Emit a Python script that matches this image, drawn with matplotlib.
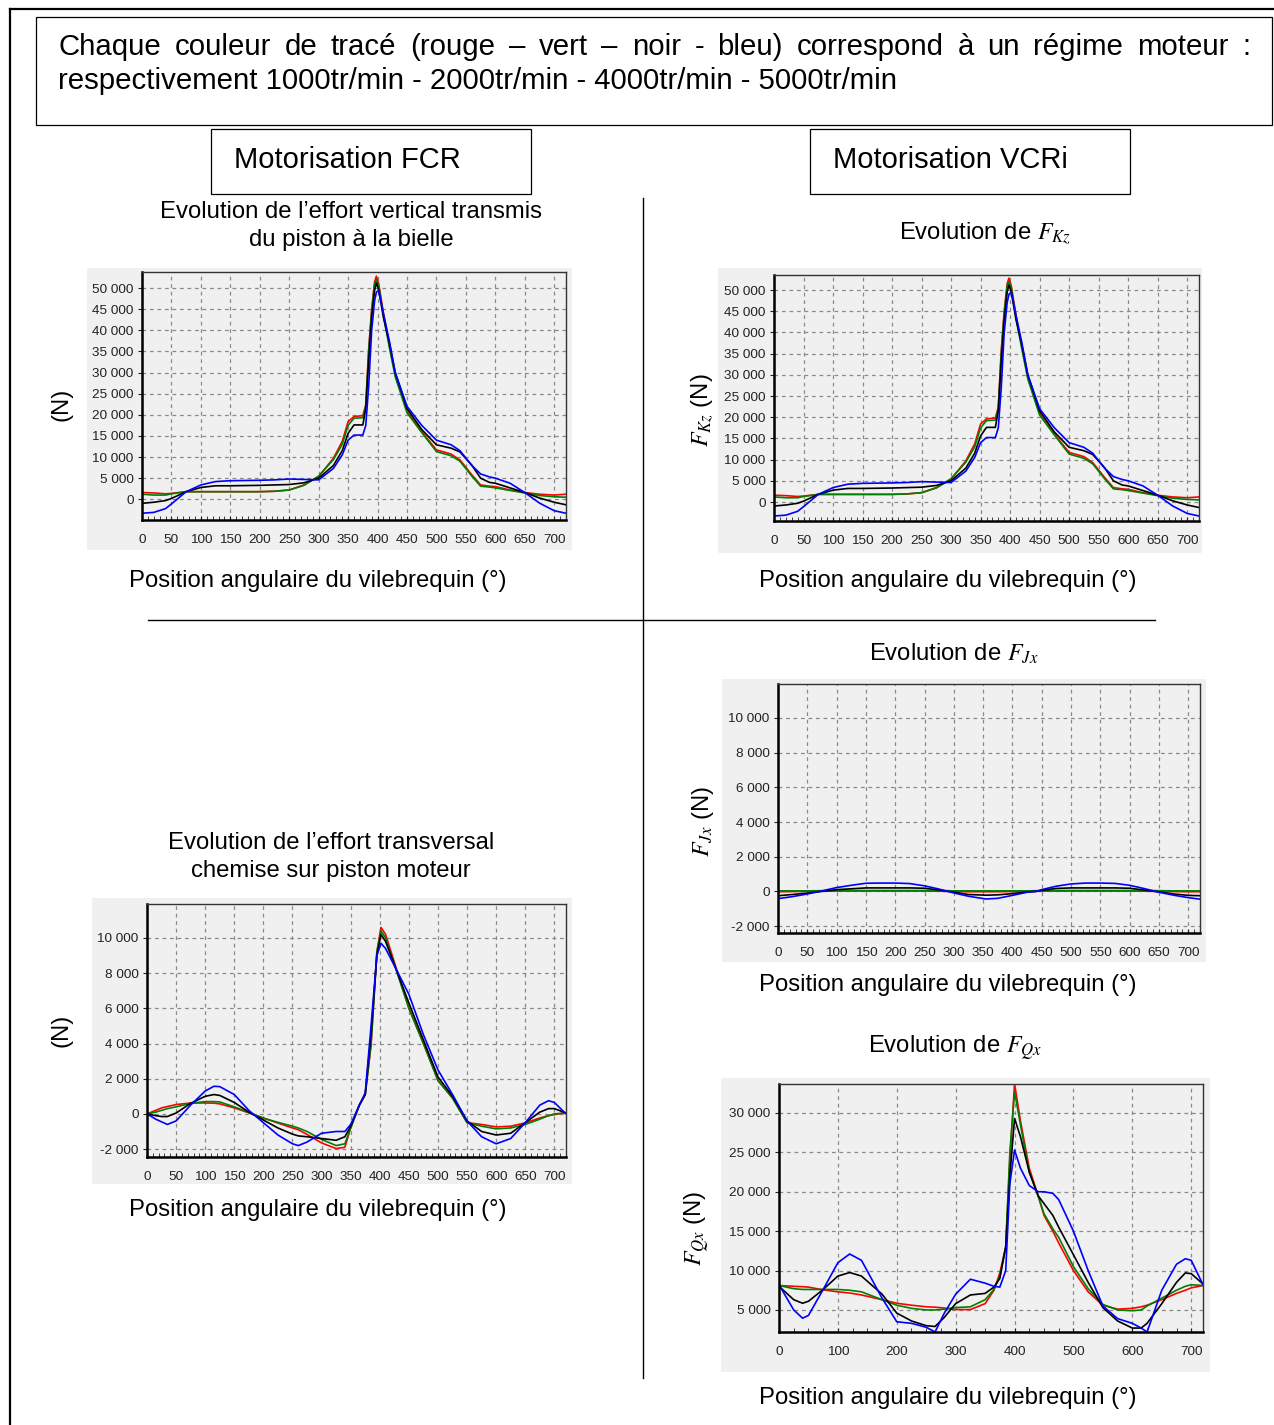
"""Efforts piston / bielle : comparaison des motorisations FCR et VCRi
pour quatre régimes moteur (rouge, vert, noir, bleu)."""
import matplotlib
matplotlib.use("Agg")
import matplotlib.pyplot as plt
from matplotlib.lines import Line2D
from matplotlib.patches import Rectangle
from matplotlib.ticker import FuncFormatter, MultipleLocator

W, H = 1274, 1425

plt.rcParams["font.family"] = ["Liberation Sans", "DejaVu Sans"]
plt.rcParams["mathtext.fontset"] = "stix"

RPM_COLORS = ["#ff0000", "#008000", "#000000", "#0000ff"]  # 1000, 2000, 4000, 5000 tr/min

# --- effort vertical piston -> bielle (FCR) / F_Kz (VCRi) -------------------
ang_vert = [0, 20, 40, 50, 75, 100, 125, 150, 200, 225,
            250, 275, 300, 325, 340, 350, 360, 375, 380, 385,
            390, 395, 398, 402, 410, 420, 430, 450, 475, 500,
            525, 540, 560, 575, 590, 600, 625, 650, 675, 700, 720]
vert_1000 = [1600, 1500, 1300, 1400, 1800, 1800, 1800, 1800, 1800, 1900,
             2200, 3400, 5400, 9700, 13700, 18400, 19600, 19800, 22400, 35800,
             45000, 51500, 52800, 51000, 44000, 36500, 29500, 20800, 16000, 11700,
             10700, 9300, 5800, 3400, 3100, 3000, 2200, 1600, 1200, 1000, 1200]
vert_2000 = [1200, 1000, 1000, 1300, 1800, 1800, 1800, 1800, 1800, 1900,
             2200, 3300, 5500, 9400, 13000, 17500, 19200, 19300, 22000, 35000,
             44500, 51000, 52000, 50500, 43500, 36000, 29000, 20500, 15800, 11300,
             10300, 9000, 5500, 3100, 2900, 2700, 2100, 1500, 900, 600, 500]
vert_4000 = [-950, -700, -300, 200, 1800, 2800, 3200, 3200, 3300, 3400,
             3500, 3900, 5000, 8000, 11500, 15600, 17600, 17600, 21500, 33000,
             43000, 49500, 51200, 49500, 43000, 37000, 30000, 21500, 16500, 12900,
             12100, 11200, 8100, 5000, 4000, 3800, 2700, 1600, 300, -700, -1300]
vert_5000 = [-3300, -3100, -2200, -1100, 1800, 3400, 4200, 4400, 4500, 4600,
             4800, 4700, 4600, 7300, 10500, 14000, 15200, 15200, 17500, 27000,
             40000, 47000, 49000, 49500, 44000, 37500, 30000, 22000, 17500, 14000,
             12900, 11500, 8000, 6000, 5300, 5000, 3800, 1600, -900, -2700, -3300]

# --- effort transversal chemise sur piston (FCR) ----------------------------
ang_trans = [0, 15, 25, 35, 50, 75, 100, 115, 125, 150,
             175, 200, 225, 250, 260, 275, 300, 325, 340, 350,
             365, 375, 385, 395, 402, 410, 450, 475, 500, 525,
             550, 575, 600, 625, 650, 675, 690, 700, 720]
trans_1000 = [0, 200, 340, 420, 530, 620, 620, 610, 570, 340,
              60, -230, -520, -800, -900, -1170, -1650, -1970, -1900, -800,
              530, 1100, 3900, 9200, 10600, 10200, 6000, 4000, 1900, 900,
              -500, -600, -740, -700, -510, -230, -100, -40, 60]
trans_2000 = [0, 100, 200, 300, 400, 600, 700, 700, 680, 400,
              80, -250, -480, -700, -800, -1000, -1450, -1800, -1700, -800,
              500, 1100, 4000, 9200, 10400, 10000, 6000, 4000, 1900, 900,
              -500, -700, -850, -800, -600, -300, -100, 0, 60]
trans_4000 = [0, -100, -150, -150, 50, 600, 1000, 1100, 1050, 650,
              100, -350, -800, -1150, -1250, -1300, -1400, -1500, -1300, -700,
              500, 1100, 4500, 9000, 10200, 9800, 6300, 4200, 2100, 1000,
              -400, -1000, -1200, -1100, -500, 100, 300, 300, 50]
trans_5000 = [0, -300, -450, -600, -400, 500, 1300, 1570, 1550, 1100,
              200, -500, -1200, -1700, -1800, -1600, -1100, -1000, -1000, -600,
              500, 1200, 5000, 9000, 9700, 9400, 6800, 4500, 2500, 1100,
              -400, -1300, -1700, -1400, -500, 500, 750, 650, 0]

# --- F_Jx (VCRi) --------------------------------------------------------------
ang_jx = [0, 25, 50, 75, 100, 125, 150, 175, 200, 225,
          250, 275, 290, 300, 325, 355, 375, 400, 425, 440,
          450, 475, 500, 525, 550, 575, 600, 625, 650, 675, 700, 720]
jx_1000 = [-20, -10, 0, 10, 20, 20, 20, 20, 20, 20,
           20, 10, 0, -10, -20, -20, -20, -10, 0, 0,
           10, 20, 20, 20, 20, 20, 20, 10, 0, -10, -20, -20]
jx_2000 = [30, 30, 30, 40, 50, 50, 50, 50, 50, 50,
           50, 50, 40, 30, 30, 30, 30, 30, 30, 40,
           40, 50, 50, 50, 50, 50, 50, 50, 40, 30, 30, 30]
jx_4000 = [-250, -180, -100, 0, 100, 150, 200, 200, 200, 200,
           180, 80, 0, -50, -180, -220, -200, -130, -30, 0,
           60, 170, 200, 200, 200, 200, 180, 80, -30, -150, -230, -250]
jx_5000 = [-420, -300, -150, 30, 220, 350, 470, 480, 480, 450,
           320, 130, 0, -90, -280, -440, -400, -230, -50, 0,
           100, 300, 430, 480, 480, 460, 350, 160, -50, -220, -360, -450]

# --- F_Qx (VCRi) --------------------------------------------------------------
ang_qx = [0, 25, 40, 50, 75, 100, 120, 140, 175, 200,
          225, 250, 265, 280, 300, 325, 350, 365, 375, 385,
          392, 400, 410, 425, 440, 450, 465, 475, 500, 525,
          550, 575, 600, 615, 625, 650, 675, 690, 700, 720]
qx_1000 = [8100, 8000, 7950, 7900, 7550, 7300, 7150, 6900, 6300, 5850,
           5600, 5400, 5350, 5250, 5050, 5050, 5800, 7500, 9700, 13000,
           24000, 33700, 29000, 23000, 19500, 17000, 15000, 13500, 10000, 7300,
           5600, 5100, 5200, 5400, 5600, 6300, 7100, 7500, 7800, 8100]
qx_2000 = [8100, 7700, 7600, 7600, 7600, 7600, 7500, 7300, 6300, 5600,
           5200, 5000, 5000, 5100, 5300, 5400, 6300, 7600, 9300, 13000,
           25000, 32700, 28500, 22500, 19500, 17200, 15300, 14200, 10500, 7700,
           5700, 5000, 4900, 5000, 5500, 6500, 7500, 8000, 8200, 8100]
qx_4000 = [8000, 6300, 5850, 6100, 7600, 9300, 9750, 9300, 7000, 4600,
           3600, 3000, 2900, 4000, 5800, 6900, 7100, 7900, 9000, 13000,
           22000, 29300, 27000, 22500, 19500, 18500, 17000, 15500, 12000, 8500,
           5300, 3600, 2700, 2700, 3300, 5800, 8500, 9700, 9600, 8300]
qx_5000 = [8200, 5000, 3950, 4300, 7600, 11000, 12100, 11300, 6500, 3500,
           3300, 2800, 2200, 4500, 7000, 8900, 8400, 8000, 7900, 10000,
           21000, 25300, 23000, 20800, 20000, 20000, 19800, 19000, 15000, 10000,
           5500, 3900, 3300, 2700, 2200, 7500, 10800, 11500, 11300, 8200]

XLABEL = "Position angulaire du vilebrequin (°)"
TXT = 17.2   # subtitles / axis labels


def fx(x):
    return x / W


def fy(y):
    return 1 - y / H


def ptext(fig, x, y, s, **kw):
    kw.setdefault("ha", "center")
    kw.setdefault("va", "center")
    return fig.text(fx(x), fy(y), s, **kw)


def pline(fig, xs, ys, lw=1.0):
    fig.add_artist(Line2D([fx(v) for v in xs], [fy(v) for v in ys],
                          transform=fig.transFigure, color="black", lw=lw))


def pbox(fig, x0, y0, x1, y1, lw=0.8, fc="none", ec="black", z=0):
    fig.add_artist(Rectangle((fx(x0), fy(y1)), fx(x1 - x0), (y1 - y0) / H,
                             transform=fig.transFigure, fc=fc, ec=ec, lw=lw,
                             zorder=z))


def thousands(v, _):
    return f"{int(round(v)):,}".replace(",", " ")


def chart(fig, panel, box, ylim, ystep, xstep, ang, series):
    pbox(fig, *panel, lw=0, fc="#f0f0f0", ec="none", z=-5)
    l, t, r, b = box
    ax = fig.add_axes([fx(l), fy(b), fx(r - l), (b - t) / H])
    ax.set_facecolor("#f0f0f0")
    for vals, col in zip(series, RPM_COLORS):
        ax.plot(ang, vals, color=col, lw=1.2)
    ax.set_xlim(0, 720)
    ax.set_ylim(*ylim)
    ax.xaxis.set_major_locator(MultipleLocator(xstep))
    ax.xaxis.set_minor_locator(MultipleLocator(25 if xstep == 100 else 10))
    ax.yaxis.set_major_locator(MultipleLocator(ystep))
    ax.yaxis.set_major_formatter(FuncFormatter(thousands))
    ax.grid(True, which="major", color="#8a8a8a", ls=(0, (3, 3)), lw=0.9)
    ax.tick_params(axis="x", which="both", direction="in", length=3, pad=10,
                   labelsize=9.7, colors="#222222")
    ax.tick_params(axis="y", which="major", direction="out", length=3, pad=3,
                   labelsize=9.7, colors="#222222")
    for side in ("left", "bottom"):
        ax.spines[side].set_linewidth(1.8)
        ax.spines[side].set_color("black")
    for side in ("top", "right"):
        ax.spines[side].set_linewidth(1.0)
        ax.spines[side].set_color("#333333")
    return ax


def justified(fig, words, x0, x1, y, size):
    arts = [fig.text(0, fy(y), w, fontsize=size, ha="left", va="center") for w in words]
    rend = fig.canvas.get_renderer()
    widths = [a.get_window_extent(rend).width for a in arts]
    gap = (x1 - x0 - sum(widths)) / (len(words) - 1)
    x = x0
    for a, w in zip(arts, widths):
        a.set_x(fx(x))
        x += w + gap


fig = plt.figure(figsize=(W / 100, H / 100), dpi=100)
fig.patch.set_facecolor("white")

# frame and separators
pline(fig, [10, 10], [9, H], lw=1.6)
pline(fig, [10, W], [9, 9], lw=1.6)
pline(fig, [643, 643], [198, 1378], lw=1.0)
pline(fig, [148, 1155], [620, 620], lw=1.0)

# header box
pbox(fig, 36, 17, 1272, 125, lw=0.9)
line1 = "Chaque couleur de tracé (rouge – vert – noir - bleu) correspond à un régime moteur :"
justified(fig, line1.split(" "), 58, 1250, 47, 21.2)
ptext(fig, 58, 81, "respectivement 1000tr/min - 2000tr/min - 4000tr/min - 5000tr/min",
      fontsize=21.2, ha="left")

pbox(fig, 211, 129, 531, 194, lw=0.9)
ptext(fig, 234, 160, "Motorisation FCR", fontsize=21, ha="left")
pbox(fig, 810, 129, 1130, 194, lw=0.9)
ptext(fig, 833, 160, "Motorisation VCRi", fontsize=21, ha="left")

# FCR : effort vertical
ptext(fig, 351, 226, "Evolution de l’effort vertical transmis\ndu piston à la bielle",
      fontsize=TXT, linespacing=1.32)
chart(fig, (87, 268, 572, 550), (142, 272, 566, 520), (-4900, 53800), 5000, 50,
      ang_vert, [vert_1000, vert_2000, vert_4000, vert_5000])
ptext(fig, 62, 404, "(N)", fontsize=TXT, rotation=90)
ptext(fig, 318, 581, XLABEL, fontsize=TXT)

# VCRi : F_Kz
ptext(fig, 985, 234, "Evolution de $F_{Kz}$", fontsize=TXT)
chart(fig, (718, 268, 1202, 553), (774, 275, 1199, 521), (-4480, 53540), 5000, 50,
      ang_vert, [vert_1000, vert_2000, vert_4000, vert_5000])
ptext(fig, 702, 410, "$F_{Kz}$ (N)", fontsize=TXT, rotation=90)
ptext(fig, 948, 581, XLABEL, fontsize=TXT)

# FCR : effort transversal
ptext(fig, 331, 857, "Evolution de l’effort transversal\nchemise sur piston moteur",
      fontsize=TXT, linespacing=1.32)
chart(fig, (92, 898, 572, 1184), (147, 904, 566, 1157), (-2450, 11930), 2000, 50,
      ang_trans, [trans_1000, trans_2000, trans_4000, trans_5000])
ptext(fig, 62, 1030, "(N)", fontsize=TXT, rotation=90)
ptext(fig, 318, 1210, XLABEL, fontsize=TXT)

# VCRi : F_Jx
ptext(fig, 954, 654, "Evolution de $F_{Jx}$", fontsize=TXT)
chart(fig, (722, 679, 1206, 962), (778, 684, 1200, 933), (-2400, 11960), 2000, 50,
      ang_jx, [jx_1000, jx_2000, jx_4000, jx_5000])
ptext(fig, 703, 822, "$F_{Jx}$ (N)", fontsize=TXT, rotation=90)
ptext(fig, 948, 985, XLABEL, fontsize=TXT)

# VCRi : F_Qx
ptext(fig, 955, 1048, "Evolution de $F_{Qx}$", fontsize=TXT)
chart(fig, (721, 1078, 1210, 1372), (779, 1084, 1203, 1332), (2200, 33680), 5000, 100,
      ang_qx, [qx_1000, qx_2000, qx_4000, qx_5000])
ptext(fig, 697, 1228, "$F_{Qx}$ (N)", fontsize=TXT, rotation=90)
ptext(fig, 948, 1398, XLABEL, fontsize=TXT)

fig.savefig("out.png", dpi=100, facecolor="white")
